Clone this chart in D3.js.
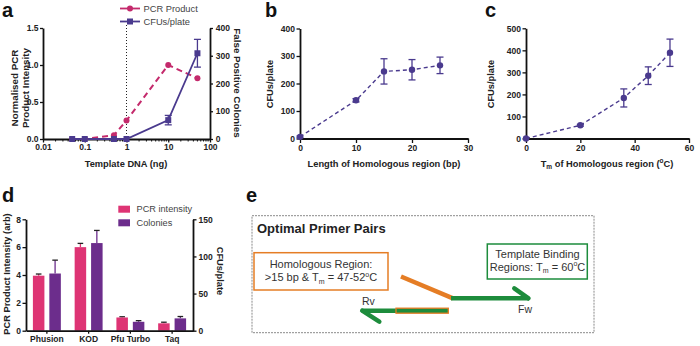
<!DOCTYPE html>
<html><head><meta charset="utf-8">
<script src="https://cdn.jsdelivr.net/npm/d3@7"></script>
<style>
body{margin:0;background:#fff;}
svg text{font-family:'Liberation Sans',Arial,sans-serif;}
</style></head>
<body><svg id="c" width="700" height="346"></svg>
<script>
// ---------- DATA ----------
// Panel a
const aTemplate = [0.05, 0.1, 0.5, 1, 10, 50];
const aPCR = [0, 0, 0.05, 0.25, 1.0, 0.82];
const aCFU = [0, 0, 0, 0, 68, 309];
const aCFUerr = [0, 0, 0, 0, 17, 50];
const aXTicks = [0.01, 0.1, 1, 10, 100];
const aXTickLabels = ["0.01", "0.1", "1", "10", "100"];
const aYTicks = [0, 0.5, 1.0, 1.5];
const aY2Ticks = [0, 100, 200, 300, 400];
// Panel b
const bLength = [0, 10, 15, 20, 25];
const bCFU = [6, 139, 244, 250, 266];
const bErr = [3, 6, 46, 37, 30];
const bXTicks = [0, 10, 20, 30];
const bYTicks = [0, 100, 200, 300, 400];
// Panel c
const cTm = [0, 20, 36, 45, 53];
const cCFU = [0, 60, 184, 285, 389];
const cErr = [0, 4, 41, 40, 62];
const cXTicks = [0, 20, 40, 60];
const cYTicks = [0, 100, 200, 300, 400, 500];
// Panel d
const dPolymerases = ["Phusion", "KOD", "Pfu Turbo", "Taq"];
const dPCR = [3.95, 6.0, 0.95, 0.53];
const dPCRerr = [0.12, 0.27, 0.05, 0.08];
const dColonies = [77, 118, 12, 16.6];
const dColErr = [18, 17, 1.5, 2.5];
const dYTicks = [0, 2, 4, 6, 8];
const dY2Ticks = [0, 50, 100, 150];

// ---------- STYLE ----------
const PINK_A = "#c42a6c", PURPLE_A = "#4a3a8e";
const PINK_D = "#de3474", PURPLE_D = "#6c2d8c";
const GREEN = "#1d8c3c", ORANGE = "#e57d25";
const TICKF = 8.5, TITLEF = 9.3;

const svg = d3.select("#c");

function styleAxis(g) {
  g.select(".domain").attr("stroke", "#111").attr("stroke-width", 1.8);
  g.selectAll(".tick line").attr("stroke", "#111").attr("stroke-width", 1.3);
  g.selectAll(".tick text").attr("fill", "#222").attr("font-size", TICKF).attr("font-weight", "bold");
  return g;
}
function letter(t, x, y) {
  svg.append("text").attr("x", x).attr("y", y).text(t)
    .attr("font-size", 20).attr("font-weight", "bold").attr("fill", "#111");
}
function vtitle(t, x, y, rot, size) {
  return svg.append("text").attr("transform", `translate(${x},${y}) rotate(${rot})`)
    .attr("text-anchor", "middle").attr("font-size", size || TITLEF).attr("font-weight", "bold")
    .attr("fill", "#222").text(t);
}
function htitle(x, y) {
  return svg.append("text").attr("x", x).attr("y", y).attr("text-anchor", "middle")
    .attr("font-size", TITLEF).attr("font-weight", "bold").attr("fill", "#222");
}
function errBars(g, xs, ys, es, xS, yS, color, capW) {
  xs.forEach((xv, i) => {
    if (!es[i]) return;
    const x = xS(xv), y1 = yS(ys[i] - es[i]), y2 = yS(ys[i] + es[i]);
    g.append("line").attr("x1", x).attr("x2", x).attr("y1", y1).attr("y2", y2)
      .attr("stroke", color).attr("stroke-width", 1.3);
    [y1, y2].forEach(yy => g.append("line").attr("x1", x - capW / 2).attr("x2", x + capW / 2)
      .attr("y1", yy).attr("y2", yy).attr("stroke", color).attr("stroke-width", 1.3));
  });
}

// ---------- PANEL A ----------
letter("a", 2, 17);
const aX = d3.scaleLog().domain([0.01, 100]).range([43, 210]);
const aY = d3.scaleLinear().domain([0, 1.5]).range([139, 28]);
const aY2 = d3.scaleLinear().domain([0, 400]).range([139, 28]);

// dotted reference line at 1 ng
svg.append("line").attr("x1", aX(1)).attr("x2", aX(1)).attr("y1", 25).attr("y2", aY(0))
  .attr("stroke", "#222").attr("stroke-width", 1).attr("stroke-dasharray", "1,2");

styleAxis(svg.append("g").attr("transform", "translate(43,0)")
  .call(d3.axisLeft(aY).tickValues(aYTicks).tickFormat(d3.format(".1f")).tickSize(3).tickSizeOuter(0).tickPadding(1.5)));
styleAxis(svg.append("g").attr("transform", "translate(210,0)")
  .call(d3.axisRight(aY2).tickValues(aY2Ticks).tickSize(3).tickSizeOuter(0).tickPadding(2.8)));
styleAxis(svg.append("g").attr("transform", "translate(0,139)")
  .call(d3.axisBottom(aX).tickValues(aXTicks).tickFormat((d, i) => aXTickLabels[i]).tickSize(3.5).tickSizeOuter(0).tickPadding(1.5)));
// minor log ticks
const minor = [];
for (let e = -2; e < 2; e++) for (let m = 2; m <= 9; m++) minor.push(m * Math.pow(10, e));
svg.append("g").selectAll("line").data(minor).join("line")
  .attr("x1", d => aX(d)).attr("x2", d => aX(d)).attr("y1", 139).attr("y2", 141.5)
  .attr("stroke", "#111").attr("stroke-width", 1);

const gA = svg.append("g");
gA.append("path").datum(aTemplate.map((t, i) => [t, aPCR[i]]))
  .attr("d", d3.line().x(d => aX(d[0])).y(d => aY(d[1])))
  .attr("fill", "none").attr("stroke", PINK_A).attr("stroke-width", 2).attr("stroke-dasharray", "6,4");
gA.append("path").datum(aTemplate.map((t, i) => [t, aCFU[i]]))
  .attr("d", d3.line().x(d => aX(d[0])).y(d => aY2(d[1])))
  .attr("fill", "none").attr("stroke", PURPLE_A).attr("stroke-width", 1.8);
errBars(gA, aTemplate, aCFU, aCFUerr, aX, aY2, PURPLE_A, 7);
gA.selectAll(".pc").data(aTemplate).join("circle")
  .attr("cx", d => aX(d)).attr("cy", (d, i) => aY(aPCR[i])).attr("r", 3).attr("fill", PINK_A);
gA.selectAll(".cs").data(aTemplate).join("rect")
  .attr("x", d => aX(d) - 3).attr("y", (d, i) => aY2(aCFU[i]) - 3).attr("width", 6).attr("height", 6).attr("fill", PURPLE_A);

// legend a
const legA = [{t: "PCR Product", c: PINK_A, m: "circle", y: 8.5}, {t: "CFUs/plate", c: PURPLE_A, m: "rect", y: 21.5}];
legA.forEach(l => {
  svg.append("line").attr("x1", 120).attr("x2", 140).attr("y1", l.y).attr("y2", l.y)
    .attr("stroke", l.c).attr("stroke-width", 1.8);
  if (l.m === "circle") svg.append("circle").attr("cx", 130).attr("cy", l.y).attr("r", 3).attr("fill", l.c);
  else svg.append("rect").attr("x", 127).attr("y", l.y - 3).attr("width", 6).attr("height", 6).attr("fill", l.c);
  svg.append("text").attr("x", 143.5).attr("y", l.y + 3.3).attr("font-size", 9.3).attr("fill", "#444").text(l.t);
});

// titles a
vtitle("Normalised PCR", 18, 88, -90, 9.8);
vtitle("Product Intensity", 29, 88, -90, 9.8);
vtitle("False  Positive Colonies", 234, 83, 90, 9.8);
htitle(126, 167).text("Template DNA (ng)");

// ---------- PANEL B ----------
letter("b", 265, 17);
const bX = d3.scaleLinear().domain([0, 30]).range([300, 468]);
const bY = d3.scaleLinear().domain([0, 400]).range([138.5, 28.5]);
styleAxis(svg.append("g").attr("transform", "translate(300,0)")
  .call(d3.axisLeft(bY).tickValues(bYTicks).tickSize(3.5).tickSizeOuter(0).tickPadding(1.5)));
styleAxis(svg.append("g").attr("transform", "translate(0,138.5)")
  .call(d3.axisBottom(bX).tickValues(bXTicks).tickSize(4.5).tickSizeOuter(0).tickPadding(1.5)));
const gB = svg.append("g");
gB.append("path").datum(bLength.map((t, i) => [t, bCFU[i]]))
  .attr("d", d3.line().x(d => bX(d[0])).y(d => bY(d[1])))
  .attr("fill", "none").attr("stroke", PURPLE_A).attr("stroke-width", 1.4).attr("stroke-dasharray", "4,3");
errBars(gB, bLength, bCFU, bErr, bX, bY, PURPLE_A, 7);
gB.selectAll("circle").data(bLength).join("circle")
  .attr("cx", d => bX(d)).attr("cy", (d, i) => bY(bCFU[i])).attr("r", 3.2).attr("fill", PURPLE_A);
vtitle("CFUs/plate", 273, 84, -90);
htitle(384, 167).text("Length of Homologous region (bp)");

// ---------- PANEL C ----------
letter("c", 485, 17);
const cX = d3.scaleLinear().domain([0, 60]).range([526, 689]);
const cY = d3.scaleLinear().domain([0, 500]).range([138.5, 28.3]);
styleAxis(svg.append("g").attr("transform", "translate(526,0)")
  .call(d3.axisLeft(cY).tickValues(cYTicks).tickSize(3.5).tickSizeOuter(0).tickPadding(1.5)));
styleAxis(svg.append("g").attr("transform", "translate(0,138.5)")
  .call(d3.axisBottom(cX).tickValues(cXTicks).tickSize(4.5).tickSizeOuter(0).tickPadding(1.5)));
const gC = svg.append("g");
gC.append("path").datum(cTm.map((t, i) => [t, cCFU[i]]))
  .attr("d", d3.line().x(d => cX(d[0])).y(d => cY(d[1])))
  .attr("fill", "none").attr("stroke", PURPLE_A).attr("stroke-width", 1.4).attr("stroke-dasharray", "4,3");
errBars(gC, cTm, cCFU, cErr, cX, cY, PURPLE_A, 7);
gC.selectAll("circle").data(cTm).join("circle")
  .attr("cx", d => cX(d)).attr("cy", (d, i) => cY(cCFU[i])).attr("r", 3.2).attr("fill", PURPLE_A);
vtitle("CFUs/plate", 494, 84, -90);
const ct = htitle(607, 167);
ct.append("tspan").text("T");
ct.append("tspan").attr("font-size", 6.5).attr("dy", 2).text("m");
ct.append("tspan").attr("dy", -2).text(" of Homologous region (");
ct.append("tspan").attr("font-size", 6.5).attr("dy", -4).text("o");
ct.append("tspan").attr("dy", 4).text("C)");

// ---------- PANEL D ----------
letter("d", 2, 202);
const dX = d3.scaleBand().domain(dPolymerases).range([26, 193]);
const dSub = d3.scaleBand().domain(["pcr", "col"]).range([0, dX.bandwidth()]).paddingInner(0.3).paddingOuter(0.42);
const dY = d3.scaleLinear().domain([0, 8]).range([330.7, 219.3]);
const dY2 = d3.scaleLinear().domain([0, 150]).range([330.7, 219.3]);
const gD = svg.append("g");
function barSeries(key, vals, errs, yS, color) {
  dPolymerases.forEach((p, i) => {
    const x = dX(p) + dSub(key), w = dSub.bandwidth(), cx = x + w / 2;
    gD.append("line").attr("x1", cx).attr("x2", cx).attr("y1", yS(vals[i])).attr("y2", yS(vals[i] + errs[i]))
      .attr("stroke", color).attr("stroke-width", 1.3);
    gD.append("line").attr("x1", cx - 2.8).attr("x2", cx + 2.8).attr("y1", yS(vals[i] + errs[i])).attr("y2", yS(vals[i] + errs[i]))
      .attr("stroke", "#222").attr("stroke-width", 1.3);
    gD.append("rect").attr("x", x).attr("y", yS(vals[i])).attr("width", w).attr("height", yS(0) - yS(vals[i]))
      .attr("fill", color);
  });
}
barSeries("pcr", dPCR, dPCRerr, dY, PINK_D);
barSeries("col", dColonies, dColErr, dY2, PURPLE_D);
styleAxis(svg.append("g").attr("transform", "translate(26,0)")
  .call(d3.axisLeft(dY).tickValues(dYTicks).tickSize(3.5).tickSizeOuter(0).tickPadding(1.5)));
styleAxis(svg.append("g").attr("transform", "translate(193,0)")
  .call(d3.axisRight(dY2).tickValues(dY2Ticks).tickSize(3.5).tickSizeOuter(0).tickPadding(2)));
styleAxis(svg.append("g").attr("transform", "translate(0,330.7)")
  .call(d3.axisBottom(dX).tickSize(3).tickSizeOuter(0).tickPadding(2)));
const legD = [{t: "PCR intensity", c: PINK_D, y: 205.7}, {t: "Colonies", c: PURPLE_D, y: 219.3}];
legD.forEach(l => {
  svg.append("rect").attr("x", 118.3).attr("y", l.y).attr("width", 11.7).attr("height", 7).attr("fill", l.c);
  svg.append("text").attr("x", 136.5).attr("y", l.y + 6.6).attr("font-size", 9.2).attr("fill", "#444").text(l.t);
});
vtitle("PCR Product Intensity (arb)", 10, 274, -90);
vtitle("CFUs/plate", 217, 271, 90);

// ---------- PANEL E ----------
letter("e", 246, 202);
svg.append("rect").attr("x", 252).attr("y", 215.7).attr("width", 342).attr("height", 117)
  .attr("fill", "none").attr("stroke", "#8a8a8a").attr("stroke-width", 1).attr("stroke-dasharray", "2,1");
svg.append("text").attr("x", 257).attr("y", 232.5).attr("font-size", 13).attr("font-weight", "bold")
  .attr("fill", "#222").text("Optimal Primer Pairs");
// orange box
svg.append("rect").attr("x", 254).attr("y", 252.7).attr("width", 134).attr("height", 37.3)
  .attr("fill", "#fff").attr("stroke", ORANGE).attr("stroke-width", 1.5);
svg.append("text").attr("x", 321).attr("y", 268.3).attr("text-anchor", "middle").attr("font-size", 11)
  .attr("fill", "#333").text("Homologous Region:");
const ot = svg.append("text").attr("x", 321).attr("y", 281).attr("text-anchor", "middle").attr("font-size", 11).attr("fill", "#333");
ot.append("tspan").text(">15 bp & T");
ot.append("tspan").attr("font-size", 7).attr("dy", 2.5).text("m");
ot.append("tspan").attr("dy", -2.5).text(" = 47-52");
ot.append("tspan").attr("font-size", 7).attr("dy", -4.5).text("o");
ot.append("tspan").attr("dy", 4.5).text("C");
// green box
svg.append("rect").attr("x", 487.3).attr("y", 244).attr("width", 100).attr("height", 35)
  .attr("fill", "#fff").attr("stroke", GREEN).attr("stroke-width", 1.5);
svg.append("text").attr("x", 537.5).attr("y", 258.3).attr("text-anchor", "middle").attr("font-size", 11)
  .attr("fill", "#333").text("Template Binding");
const gt = svg.append("text").attr("x", 537.5).attr("y", 270.5).attr("text-anchor", "middle").attr("font-size", 11).attr("fill", "#333");
gt.append("tspan").text("Regions: T");
gt.append("tspan").attr("font-size", 7).attr("dy", 2.5).text("m");
gt.append("tspan").attr("dy", -2.5).text(" = 60");
gt.append("tspan").attr("font-size", 7).attr("dy", -4.5).text("o");
gt.append("tspan").attr("dy", 4.5).text("C");
// forward primer
svg.append("line").attr("x1", 401).attr("y1", 276.5).attr("x2", 453).attr("y2", 298.3)
  .attr("stroke", ORANGE).attr("stroke-width", 4.5);
svg.append("line").attr("x1", 451).attr("y1", 298.3).attr("x2", 529).attr("y2", 298.3)
  .attr("stroke", GREEN).attr("stroke-width", 4.5);
svg.append("line").attr("x1", 528.5).attr("y1", 298.3).attr("x2", 514.3).attr("y2", 288.3)
  .attr("stroke", GREEN).attr("stroke-width", 4.5).attr("stroke-linecap", "round");
svg.append("text").attr("x", 518).attr("y", 312.5).attr("font-size", 10.5).attr("fill", "#333").text("Fw");
// reverse primer
svg.append("line").attr("x1", 448.3).attr("y1", 310.7).attr("x2", 361.7).attr("y2", 310.7)
  .attr("stroke", GREEN).attr("stroke-width", 4.5);
svg.append("rect").attr("x", 396).attr("y", 308.2).attr("width", 52.3).attr("height", 5)
  .attr("fill", GREEN).attr("stroke", ORANGE).attr("stroke-width", 1.3);
svg.append("line").attr("x1", 362.2).attr("y1", 310.7).attr("x2", 379.3).attr("y2", 321.7)
  .attr("stroke", GREEN).attr("stroke-width", 4.5).attr("stroke-linecap", "round");
svg.append("text").attr("x", 362).attr("y", 305).attr("font-size", 10.5).attr("fill", "#333").text("Rv");
</script></body></html>
